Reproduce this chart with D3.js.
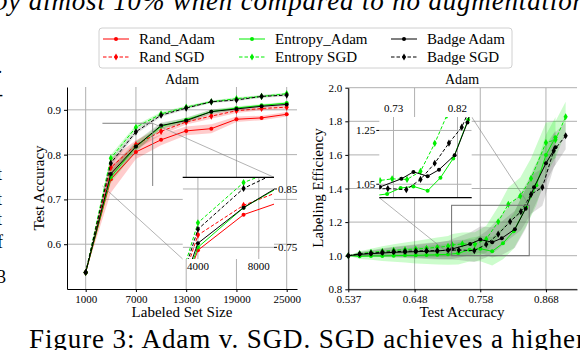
<!DOCTYPE html>
<html><head><meta charset="utf-8">
<script src="https://cdn.jsdelivr.net/npm/d3@7"></script>
<style>
body{margin:0;background:#fff}
svg{display:block}
text{font-family:"Liberation Serif","Times New Roman",serif;fill:#000}
</style></head><body>
<svg id="fig" width="580" height="350"></svg>
<script>
// ---- left panel: test accuracy vs labeled set size
var sizes = [1000,4000,7000,10000,13000,16000,19000,22000,25000];
var randAdam    = [0.537,0.745,0.806,0.833,0.853,0.858,0.879,0.882,0.890];
var randSGD     = [0.537,0.771,0.822,0.852,0.873,0.886,0.898,0.903,0.906];
var entAdam     = [0.537,0.750,0.818,0.863,0.878,0.896,0.904,0.910,0.915];
var entSGD      = [0.537,0.792,0.861,0.891,0.906,0.918,0.925,0.930,0.936];
var badgeAdam   = [0.537,0.757,0.818,0.865,0.876,0.896,0.902,0.908,0.912];
var badgeSGD    = [0.537,0.781,0.851,0.888,0.904,0.918,0.922,0.930,0.933];
var randAdamSd  = [0,0.030,0.016,0.012,0.010,0.010,0.006,0.005,0.005];
var randSGDSd   = [0,0.020,0.010,0.008,0.006,0.006,0.005,0.004,0.004];
var entAdamSd   = [0,0.014,0.010,0.006,0.005,0.004,0.004,0.003,0.003];
var entSGDSd    = [0,0.008,0.005,0.004,0.003,0.003,0.003,0.003,0.003];
var badgeAdamSd = [0,0.014,0.012,0.007,0.006,0.005,0.004,0.003,0.003];
var badgeSGDSd  = [0,0.008,0.005,0.004,0.003,0.003,0.003,0.003,0.003];
var sizeTicks = [1000,7000,13000,19000,25000];
var accTicks = [0.6,0.7,0.8,0.9];

// ---- right panel: labeling efficiency vs test accuracy
var effEntAdamX = [0.537,0.556,0.575,0.594,0.613,0.632,0.650,0.668,0.686,0.704,0.721,0.740,0.758,0.778,0.796,0.814,0.835,0.852,0.868,0.884];
var effEntAdamY = [1.000,0.996,0.998,0.998,1.000,1.002,1.002,1.004,1.006,1.008,1.014,1.036,1.042,1.026,1.074,1.146,1.290,1.420,1.600,1.705];
var effEntSGDX  = [0.537,0.556,0.575,0.594,0.613,0.632,0.650,0.668,0.686,0.704,0.711,0.728,0.749,0.768,0.788,0.805,0.825,0.843,0.868,0.884,0.901];
var effEntSGDY  = [1.000,1.012,1.020,1.026,1.032,1.036,1.040,1.044,1.050,1.056,1.064,1.070,1.068,1.098,1.202,1.306,1.355,1.460,1.673,1.690,1.827];
var effBadgeAdamX = [0.537,0.556,0.575,0.594,0.613,0.632,0.650,0.668,0.686,0.704,0.711,0.741,0.758,0.778,0.794,0.816,0.834,0.848,0.868,0.884];
var effBadgeAdamY = [1.000,1.008,1.012,1.016,1.020,1.022,1.024,1.026,1.028,1.034,1.040,1.070,1.096,1.080,1.104,1.158,1.280,1.407,1.550,1.645];
var effBadgeSGDX  = [0.537,0.556,0.575,0.594,0.613,0.632,0.650,0.668,0.686,0.704,0.722,0.748,0.768,0.788,0.808,0.826,0.843,0.862,0.881,0.901];
var effBadgeSGDY  = [1.000,1.010,1.015,1.020,1.024,1.026,1.028,1.030,1.030,1.032,1.034,1.030,1.068,1.128,1.203,1.262,1.365,1.407,1.625,1.714];
var effEntAdamSd   = [0,0.015,0.022,0.030,0.036,0.042,0.048,0.054,0.058,0.062,0.066,0.070,0.075,0.085,0.095,0.105,0.115,0.120,0.120,0.120];
var effEntSGDSd    = [0,0.015,0.022,0.030,0.036,0.042,0.048,0.054,0.058,0.062,0.065,0.068,0.072,0.080,0.090,0.100,0.110,0.120,0.120,0.110,0.090];
var effBadgeAdamSd = [0,0.012,0.018,0.024,0.030,0.035,0.040,0.045,0.050,0.055,0.060,0.068,0.078,0.090,0.100,0.110,0.120,0.120,0.110,0.100];
var effBadgeSGDSd  = [0,0.012,0.018,0.024,0.030,0.035,0.040,0.045,0.050,0.055,0.060,0.068,0.078,0.090,0.100,0.110,0.115,0.110,0.100,0.080];
var effXTicks = [0.537,0.648,0.758,0.868];
var effYTicks = [0.8,1.0,1.2,1.4,1.6,1.8,2.0];

var names  = ["Rand_Adam","Rand SGD","Entropy_Adam","Entropy SGD","Badge Adam","Badge SGD"];
var colors = ["#ff0000","#ff0000","#00ee00","#00ee00","#000000","#000000"];
var dashed = [false,true,false,true,false,true];

var svg = d3.select("#fig");
var grid = "#b0b0b0";

function marker(g, px, py, i) {
  if (dashed[i]) {
    g.append("path").attr("d", d3.symbol(d3.symbolDiamond, 15)())
      .attr("transform","translate("+px+","+py+")").attr("fill", colors[i]);
  } else {
    g.append("circle").attr("cx",px).attr("cy",py).attr("r",2).attr("fill",colors[i]);
  }
}

function drawSeries(g, x, y, xs, ys, i) {
  var line = d3.line().x(function(d,k){return x(xs[k]);}).y(function(d){return y(d);});
  g.append("path").attr("d", line(ys)).attr("fill","none")
    .attr("stroke", colors[i]).attr("stroke-width",1)
    .attr("stroke-dasharray", dashed[i] ? "3.5,2" : null);
  ys.forEach(function(v,k){ marker(g, x(xs[k]), y(v), i); });
}

function drawBand(g, x, y, xs, ys, sd, i, op) {
  var area = d3.area().x(function(d,k){return x(xs[k]);})
    .y0(function(d,k){return y(ys[k]-sd[k]);})
    .y1(function(d,k){return y(ys[k]+sd[k]);});
  g.append("path").attr("d", area(ys)).attr("fill", colors[i] == "#000000" ? "#555" : colors[i])
    .attr("fill-opacity", op).attr("stroke","none");
}

function gridLines(g, x, y, xt, yt) {
  var r = x.range(), d = y.range();
  g.selectAll(null).data(xt).enter().append("line")
    .attr("x1",x).attr("x2",x).attr("y1",d[0]).attr("y2",d[1])
    .attr("stroke",grid).attr("stroke-width",1);
  g.selectAll(null).data(yt).enter().append("line")
    .attr("y1",y).attr("y2",y).attr("x1",r[0]).attr("x2",r[1])
    .attr("stroke",grid).attr("stroke-width",1);
}

function styleAxis(a) {
  a.selectAll("text").attr("font-size","11px");
  a.select(".domain").attr("stroke","#000").attr("stroke-width",1);
}

// ================= left panel
var lx = d3.scaleLinear().domain([-1230, 26230]).range([67, 297]);
var ly = d3.scaleLinear().domain([0.5, 0.951]).range([289, 87]);
var L = svg.append("g");
gridLines(L, lx, ly, sizeTicks, accTicks);

var leftY = [randAdam, randSGD, entAdam, entSGD, badgeAdam, badgeSGD];
var leftSd = [randAdamSd, randSGDSd, entAdamSd, entSGDSd, badgeAdamSd, badgeSGDSd];
leftY.forEach(function(ys,i){ drawBand(L, lx, ly, sizes, ys, leftSd[i], i, 0.2); });
leftY.forEach(function(ys,i){ drawSeries(L, lx, ly, sizes, ys, i); });

var ax = L.append("g").attr("transform","translate(0,289)")
  .call(d3.axisBottom(lx).tickValues(sizeTicks).tickSize(3).tickSizeOuter(0).tickFormat(d3.format("d")));
styleAxis(ax);
var ay = L.append("g").attr("transform","translate(67,0)")
  .call(d3.axisLeft(ly).tickValues(accTicks).tickSize(3).tickSizeOuter(0).tickFormat(d3.format(".1f")));
styleAxis(ay);

L.append("text").attr("x",182).attr("y",84).attr("text-anchor","middle").attr("font-size","14px").text("Adam");
L.append("text").attr("x",182).attr("y",317).attr("text-anchor","middle").attr("font-size","15px").text("Labeled Set Size");
L.append("text").attr("transform","translate(44,188) rotate(-90)").attr("text-anchor","middle").attr("font-size","15px").text("Test Accuracy");

// zoom box (top and right edges show) and inset (left)
var lBox = {x0:3000, x1:9000, y0:0.73, y1:0.87};
var lIn = {l:182.7, r:274, t:177.3, b:259};
L.append("path")
  .attr("d","M"+lx(lBox.x0)+","+ly(lBox.y1)+"H"+lx(lBox.x1)+"V"+ly(lBox.y0))
  .attr("fill","none").attr("stroke","#808080").attr("stroke-width",1);
L.append("line").attr("x1",lx(lBox.x0)).attr("y1",ly(lBox.y0)).attr("x2",lIn.l).attr("y2",lIn.b)
  .attr("stroke","#808080").attr("stroke-width",0.6);
L.append("line").attr("x1",lx(lBox.x1)).attr("y1",ly(lBox.y1)).attr("x2",lIn.r).attr("y2",lIn.t)
  .attr("stroke","#808080").attr("stroke-width",0.6);

var ix = d3.scaleLinear().domain([lBox.x0,lBox.x1]).range([lIn.l,lIn.r]);
var iy = d3.scaleLinear().domain([lBox.y0,lBox.y1]).range([lIn.b,lIn.t]);
svg.append("clipPath").attr("id","clipL").append("rect")
  .attr("x",lIn.l).attr("y",lIn.t).attr("width",lIn.r-lIn.l).attr("height",lIn.b-lIn.t);
L.append("rect").attr("x",lIn.l).attr("y",lIn.t).attr("width",lIn.r-lIn.l).attr("height",lIn.b-lIn.t).attr("fill","#fff");
var LI = L.append("g").attr("clip-path","url(#clipL)");
gridLines(LI, ix, iy, [4000,8000], [0.75,0.85]);
leftY.forEach(function(ys,i){ drawSeries(LI, ix, iy, sizes, ys, i); });
L.append("line").attr("x1",lIn.l).attr("x2",lIn.r).attr("y1",lIn.t).attr("y2",lIn.t).attr("stroke","#000").attr("stroke-width",1.2);
[4000,8000].forEach(function(v){
  L.append("text").attr("x",ix(v)).attr("y",270).attr("text-anchor","middle").attr("font-size","11px").text(v);
});
[0.75,0.85].forEach(function(v){
  L.append("line").attr("x1",lIn.r).attr("x2",lIn.r+3).attr("y1",iy(v)).attr("y2",iy(v)).attr("stroke","#000");
  L.append("text").attr("x",lIn.r+4).attr("y",iy(v)+4).attr("font-size","11px").text(v.toFixed(2));
});

// ================= right panel
var rx = d3.scaleLinear().domain([0.537, 0.92]).range([348.3, 577]);
var ry = d3.scaleLinear().domain([0.8, 2.0]).range([289.3, 87.7]);
var R = svg.append("g");
gridLines(R, rx, ry, effXTicks, effYTicks);

var rSeries = [
  {i:2, xs:effEntAdamX, ys:effEntAdamY, sd:effEntAdamSd},
  {i:3, xs:effEntSGDX, ys:effEntSGDY, sd:effEntSGDSd},
  {i:4, xs:effBadgeAdamX, ys:effBadgeAdamY, sd:effBadgeAdamSd},
  {i:5, xs:effBadgeSGDX, ys:effBadgeSGDY, sd:effBadgeSGDSd}
];
rSeries.forEach(function(s){ drawBand(R, rx, ry, s.xs, s.ys, s.sd, s.i, 0.2); });
rSeries.forEach(function(s){ drawSeries(R, rx, ry, s.xs, s.ys, s.i); });

var bx = R.append("g").attr("transform","translate(0,289.3)")
  .call(d3.axisBottom(rx).tickValues(effXTicks).tickSize(3).tickSizeOuter(0).tickFormat(d3.format(".3f")));
styleAxis(bx);
var by = R.append("g").attr("transform","translate(348.3,0)")
  .call(d3.axisLeft(ry).tickValues(effYTicks).tickSize(3).tickSizeOuter(0).tickFormat(d3.format(".1f")));
styleAxis(by);

R.append("text").attr("x",462).attr("y",84).attr("text-anchor","middle").attr("font-size","14px").text("Adam");
R.append("text").attr("x",462).attr("y",317).attr("text-anchor","middle").attr("font-size","15px").text("Test Accuracy");
R.append("text").attr("transform","translate(323,188) rotate(-90)").attr("text-anchor","middle").attr("font-size","15px").text("Labeling Efficiency");

// zoom box and inset (right)
var rBox = {x0:0.71, x1:0.84, y0:1.0, y1:1.3};
var rIn = {l:379.3, r:471.7, t:117, b:197.7};
R.append("rect").attr("x",rx(rBox.x0)).attr("y",ry(rBox.y1))
  .attr("width",rx(rBox.x1)-rx(rBox.x0)).attr("height",ry(rBox.y0)-ry(rBox.y1))
  .attr("fill","none").attr("stroke","#707070").attr("stroke-width",1);
R.append("line").attr("x1",rx(rBox.x0)).attr("y1",ry(rBox.y0)).attr("x2",rIn.l).attr("y2",rIn.b)
  .attr("stroke","#808080").attr("stroke-width",0.6);
R.append("line").attr("x1",rx(rBox.x1)).attr("y1",ry(rBox.y1)).attr("x2",rIn.r).attr("y2",rIn.t)
  .attr("stroke","#808080").attr("stroke-width",0.6);

var jx = d3.scaleLinear().domain([rBox.x0,rBox.x1]).range([rIn.l,rIn.r]);
var jy = d3.scaleLinear().domain([rBox.y0,rBox.y1]).range([rIn.b,rIn.t]);
svg.append("clipPath").attr("id","clipR").append("rect")
  .attr("x",rIn.l).attr("y",rIn.t).attr("width",rIn.r-rIn.l).attr("height",rIn.b-rIn.t);
R.append("rect").attr("x",rIn.l).attr("y",rIn.t).attr("width",rIn.r-rIn.l).attr("height",rIn.b-rIn.t).attr("fill","#fff");
var RI = R.append("g").attr("clip-path","url(#clipR)");
gridLines(RI, jx, jy, [0.73,0.82], [1.05,1.25]);
rSeries.forEach(function(s){ drawSeries(RI, jx, jy, s.xs, s.ys, s.i); });
R.append("line").attr("x1",rIn.l).attr("x2",rIn.r).attr("y1",rIn.b).attr("y2",rIn.b).attr("stroke","#000").attr("stroke-width",1.2);
[0.73,0.82].forEach(function(v){
  R.append("text").attr("x",jx(v)).attr("y",112).attr("text-anchor","middle").attr("font-size","11px").text(v.toFixed(2));
});
[1.05,1.25].forEach(function(v){
  R.append("line").attr("x1",rIn.l-3).attr("x2",rIn.l).attr("y1",jy(v)).attr("y2",jy(v)).attr("stroke","#000");
  R.append("text").attr("x",rIn.l-4).attr("y",jy(v)+4).attr("text-anchor","end").attr("font-size","11px").text(v.toFixed(2));
});

// ================= legend
var lg = svg.append("g");
lg.append("rect").attr("x",99).attr("y",28).attr("width",413).attr("height",40).attr("rx",3)
  .attr("fill","#fff").attr("stroke","#d0d0d0").attr("stroke-width",1);
var colX = [103,239,391], rowY = [39,57];
names.forEach(function(n,i){
  var cx = colX[Math.floor(i/2)], cy = rowY[i%2];
  lg.append("line").attr("x1",cx).attr("x2",cx+26).attr("y1",cy).attr("y2",cy)
    .attr("stroke",colors[i]).attr("stroke-width",1).attr("stroke-dasharray", dashed[i] ? "3.5,2" : null);
  marker(lg, cx+13, cy, i);
  lg.append("text").attr("x",cx+36).attr("y",cy+5).attr("font-size","15px").text(n);
});

// ================= surrounding page text
svg.append("text").attr("x",-6).attr("y",10).attr("font-size","27px").attr("font-style","italic")
  .attr("textLength",592).attr("lengthAdjust","spacing").text("by almost 10% when compared to no augmentation");
svg.append("text").attr("x",29).attr("y",348).attr("font-size","27px")
  .attr("textLength",556).attr("lengthAdjust","spacing").text("Figure 3: Adam v. SGD. SGD achieves a higher");
var frag = [["·",78],["-",100],["t",180],["t",205],["t",225],["f",248],["3",283]];
frag.forEach(function(f){
  svg.append("text").attr("x",-3).attr("y",f[1]).attr("font-size","18px").text(f[0]);
});
</script>
</body></html>
